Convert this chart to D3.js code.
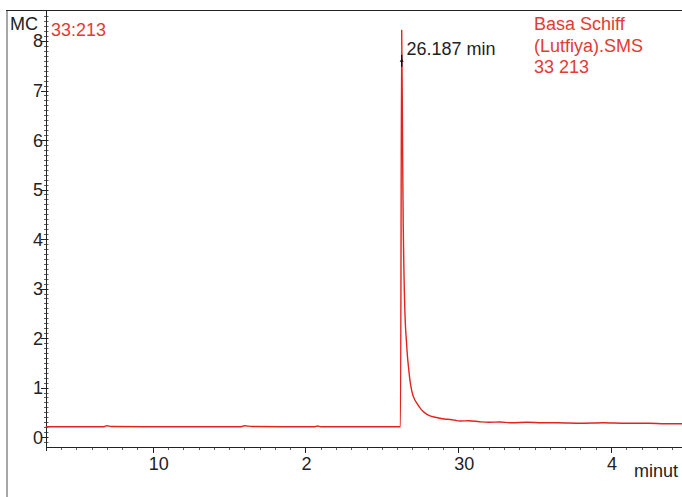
<!DOCTYPE html>
<html>
<head>
<meta charset="utf-8">
<script src="https://cdn.jsdelivr.net/npm/d3@7"></script>
<style>
  html, body { margin: 0; padding: 0; background: #fff; }
  svg { display: block; font-family: "Liberation Sans", Arial, sans-serif; }
</style>
</head>
<body>
<svg id="chart" width="682" height="497"></svg>
<script>
// ---- data (time in minutes, abundance in MC) ----
const times = [3.0, 5.2, 6.8, 7.0, 7.3, 9.5, 12.0, 14.5, 15.8, 16.0, 16.5, 18.5, 20.6, 20.8, 21.0, 23.5, 26.22,
  26.30, 26.36, 26.40, 26.45, 26.53, 26.60, 26.66, 26.75, 26.84, 26.93, 27.03, 27.15, 27.3, 27.5, 27.69, 27.9, 28.15, 28.5, 28.8, 29.1, 29.46,
  29.8, 30.1, 30.7, 31.4, 32.0, 32.7, 33.5, 34.5, 35.5, 36.5, 38.0, 39.5, 41.0, 42.5, 43.5, 44.65];
const abundance = [0.21, 0.21, 0.21, 0.23, 0.215, 0.21, 0.21, 0.21, 0.21, 0.23, 0.215, 0.21, 0.21, 0.225, 0.21, 0.21, 0.21,
  8.22, 5.8, 4.3, 3.31, 2.36, 1.98, 1.70, 1.40, 1.15, 0.98, 0.85, 0.76, 0.68, 0.59, 0.52, 0.47, 0.43, 0.40, 0.38, 0.365, 0.355,
  0.34, 0.325, 0.33, 0.31, 0.30, 0.305, 0.29, 0.30, 0.29, 0.29, 0.28, 0.29, 0.28, 0.28, 0.27, 0.27];

const yTicks = [0, 1, 2, 3, 4, 5, 6, 7, 8];
const xTicks = [10, 20, 30, 40];
const xTickLabels = ["10", "2", "30", "4"];

const peakTime = 26.30;
const peakLabel = "26.187 min";
const peakMarkerValue = 7.6;
const traceLabel = "33:213";
const legendLines = ["Basa Schiff", "(Lutfiya).SMS", "33 213"];
const yUnit = "MC";
const xUnit = "minut";

// ---- layout ----
const red = "#e3231d";
const textRed = "#e23b33";
const svg = d3.select("#chart");

const x = d3.scaleLinear().domain([3.016, 44.65]).range([46, 682]);
const y = d3.scaleLinear().domain([-0.2, 8.626]).range([447, 10]);

// outer frame
svg.append("line").attr("x1", 7).attr("x2", 7).attr("y1", 10).attr("y2", 497)
  .attr("stroke", "#8a8a8a").attr("stroke-width", 1.5);
svg.append("line").attr("x1", 6).attr("x2", 682).attr("y1", 10.5).attr("y2", 10.5)
  .attr("stroke", "#222").attr("stroke-width", 1.2);

// y axis line
svg.append("line").attr("x1", 46.5).attr("x2", 46.5).attr("y1", 10).attr("y2", 451)
  .attr("stroke", "#222").attr("stroke-width", 1);
// x axis line
svg.append("line").attr("x1", 46).attr("x2", 682).attr("y1", 447.5).attr("y2", 447.5)
  .attr("stroke", "#222").attr("stroke-width", 1);

// y minor ticks (0.1 steps)
const yMinor = d3.range(-1, 87).map(i => i / 10).filter(v => Math.abs(v - Math.round(v)) > 1e-6 && y(v) > 12 && y(v) < 446);
svg.append("g").selectAll("line").data(yMinor).join("line")
  .attr("x1", 44).attr("x2", 48.5)
  .attr("y1", d => Math.round(y(d)) + 0.5).attr("y2", d => Math.round(y(d)) + 0.5)
  .attr("stroke", "#333").attr("stroke-width", 0.8);
// y major ticks
svg.append("g").selectAll("line").data(yTicks).join("line")
  .attr("x1", 41).attr("x2", 48.5)
  .attr("y1", d => Math.round(y(d)) + 0.5).attr("y2", d => Math.round(y(d)) + 0.5)
  .attr("stroke", "#222").attr("stroke-width", 1);
svg.append("g").selectAll("text").data(yTicks).join("text")
  .attr("x", 43).attr("y", d => y(d)).attr("dy", "0.36em")
  .attr("text-anchor", "end").attr("font-size", 18).attr("fill", "#222")
  .text(d => d);

// x minor ticks (1 min)
const xMinor = d3.range(4, 45).filter(t => t % 10 !== 0);
svg.append("g").selectAll("line").data(xMinor).join("line")
  .attr("x1", d => Math.round(x(d)) + 0.5).attr("x2", d => Math.round(x(d)) + 0.5)
  .attr("y1", 447).attr("y2", 450)
  .attr("stroke", "#333").attr("stroke-width", 0.8);
svg.append("g").selectAll("line").data(xTicks).join("line")
  .attr("x1", d => Math.round(x(d)) + 0.5).attr("x2", d => Math.round(x(d)) + 0.5)
  .attr("y1", 447).attr("y2", 453)
  .attr("stroke", "#222").attr("stroke-width", 1);
svg.append("g").selectAll("text").data(xTicks).join("text")
  .attr("x", d => x(d) - 4).attr("y", 470)
  .attr("text-anchor", "start").attr("font-size", 18).attr("fill", "#222")
  .text((d, i) => xTickLabels[i]);

// axis unit labels
svg.append("text").attr("x", 10).attr("y", 30).attr("font-size", 18).attr("fill", "#222").text(yUnit);
svg.append("text").attr("x", 634).attr("y", 476.5).attr("font-size", 18).attr("fill", "#222").text(xUnit);

// trace
const data = times.map((t, i) => ({ t, v: abundance[i] }));
const line = d3.line().x(d => x(d.t)).y(d => y(d.v)).curve(d3.curveMonotoneX);
svg.append("path").datum(data)
  .attr("d", line).attr("fill", "none")
  .attr("stroke", red).attr("stroke-width", 1.4).attr("stroke-linejoin", "round");

// peak marker and label
const px = x(peakTime), py = y(peakMarkerValue);
svg.append("line").attr("x1", px).attr("x2", px).attr("y1", py - 6).attr("y2", py + 6)
  .attr("stroke", "#111").attr("stroke-width", 1.4);
svg.append("path").attr("d", `M${px - 2},${py + 1}L${px + 2},${py + 1}L${px},${py - 2}Z`).attr("fill", "#111");
svg.append("text").attr("x", 406.5).attr("y", 55).attr("font-size", 18).attr("fill", "#222").text(peakLabel);

// trace label
svg.append("text").attr("x", 51).attr("y", 36).attr("font-size", 18).attr("fill", textRed).text(traceLabel);

// legend text
svg.append("g").selectAll("text").data(legendLines).join("text")
  .attr("x", 534).attr("y", (d, i) => 30 + i * 21.5)
  .attr("font-size", 18).attr("fill", textRed)
  .text(d => d);
</script>
</body>
</html>
